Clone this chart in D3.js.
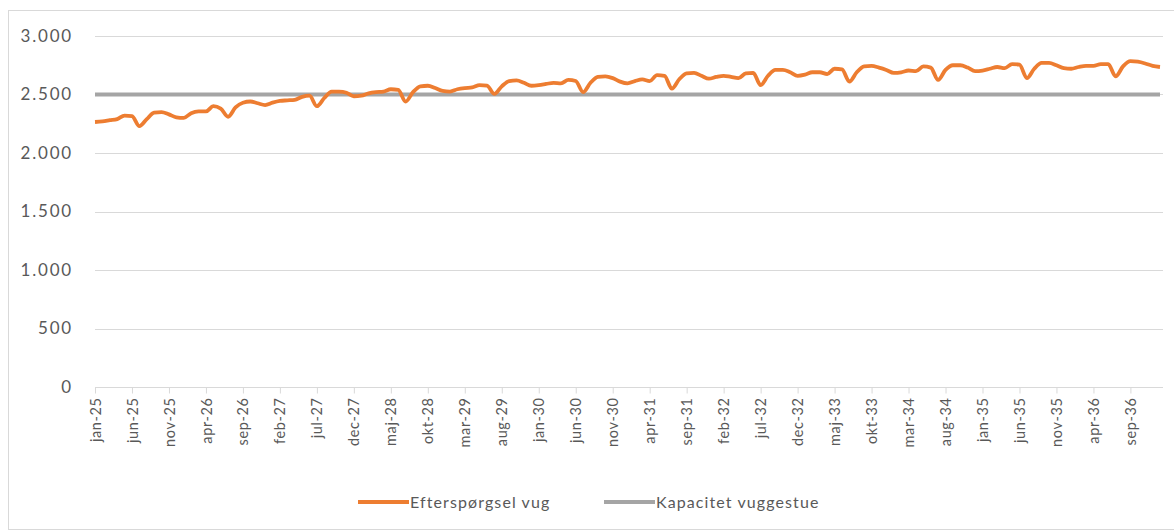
<!DOCTYPE html>
<html>
<head>
<meta charset="utf-8">
<script src="https://cdn.jsdelivr.net/npm/d3@7"></script>
<style>
    body { margin: 0; background: #fff; }
    text { font-family: Lato, "Open Sans", sans-serif; fill: #595959; }
</style>
</head>
<body>
<div id="chart"></div>
<script>
var monthNames = ["jan", "feb", "mar", "apr", "maj", "jun", "jul", "aug", "sep", "okt", "nov", "dec"];
var years = ["25", "26", "27", "28", "29", "30", "31", "32", "33", "34", "35", "36", "37"];

// efterspørgsel, jan-25 .. jan-37
var demand = [
    2265, 2270, 2280, 2290, 2320, 2315, 2230, 2290, 2345, 2350, 2330, 2305,
    2300, 2340, 2355, 2355, 2400, 2380, 2310, 2390, 2430, 2440, 2425, 2410,
    2430, 2445, 2450, 2455, 2480, 2490, 2400, 2470, 2525, 2525, 2515, 2485,
    2490, 2510, 2520, 2525, 2545, 2540, 2440, 2520, 2570, 2575, 2555, 2530,
    2525, 2545, 2555, 2560, 2580, 2575, 2505, 2570, 2615, 2620, 2600, 2575,
    2580, 2590, 2600, 2595, 2625, 2615, 2520, 2600, 2650, 2655, 2640, 2610,
    2595, 2615, 2630, 2615, 2665, 2660, 2550, 2630, 2680, 2685, 2660, 2635,
    2650, 2660, 2650, 2640, 2680, 2685, 2580, 2660, 2710, 2710, 2690, 2660,
    2670, 2690, 2690, 2675, 2720, 2715, 2610, 2690, 2740, 2745, 2730, 2710,
    2685, 2690, 2705, 2700, 2740, 2730, 2625, 2710, 2750, 2750, 2730, 2700,
    2705, 2720, 2735, 2725, 2760, 2755, 2640, 2720, 2770, 2770, 2750, 2725,
    2720, 2735, 2745, 2745, 2760, 2760, 2655, 2740, 2785, 2780, 2765, 2745,
    2735
];

var capacity = [
    2500, 2500, 2500, 2500, 2500, 2500, 2500, 2500, 2500, 2500, 2500, 2500,
    2500, 2500, 2500, 2500, 2500, 2500, 2500, 2500, 2500, 2500, 2500, 2500,
    2500, 2500, 2500, 2500, 2500, 2500, 2500, 2500, 2500, 2500, 2500, 2500,
    2500, 2500, 2500, 2500, 2500, 2500, 2500, 2500, 2500, 2500, 2500, 2500,
    2500, 2500, 2500, 2500, 2500, 2500, 2500, 2500, 2500, 2500, 2500, 2500,
    2500, 2500, 2500, 2500, 2500, 2500, 2500, 2500, 2500, 2500, 2500, 2500,
    2500, 2500, 2500, 2500, 2500, 2500, 2500, 2500, 2500, 2500, 2500, 2500,
    2500, 2500, 2500, 2500, 2500, 2500, 2500, 2500, 2500, 2500, 2500, 2500,
    2500, 2500, 2500, 2500, 2500, 2500, 2500, 2500, 2500, 2500, 2500, 2500,
    2500, 2500, 2500, 2500, 2500, 2500, 2500, 2500, 2500, 2500, 2500, 2500,
    2500, 2500, 2500, 2500, 2500, 2500, 2500, 2500, 2500, 2500, 2500, 2500,
    2500, 2500, 2500, 2500, 2500, 2500, 2500, 2500, 2500, 2500, 2500, 2500,
    2500
];

var yTicks = [0, 500, 1000, 1500, 2000, 2500, 3000];
var seriesNames = ["Efterspørgsel vug", "Kapacitet vuggestue"];
var seriesColors = ["#ed7d31", "#a5a5a5"];

var width = 1174, height = 532;
var plotLeft = 95, plotRight = 1160, plotTop = 36, plotBottom = 387;

var categories = [];
years.forEach(function (yr) {
    monthNames.forEach(function (m) { categories.push(m + "-" + yr); });
});
categories = categories.slice(0, demand.length);

var svg = d3.select("#chart").append("svg")
    .attr("width", width)
    .attr("height", height);

svg.append("rect")
    .attr("x", 8.5).attr("y", 10.5)
    .attr("width", width).attr("height", 519)
    .attr("fill", "none")
    .attr("stroke", "#d9d9d9");

var x = d3.scaleLinear().domain([0, demand.length - 1]).range([plotLeft, plotRight]);
var y = d3.scaleLinear().domain([0, 3000]).range([plotBottom, plotTop]);

// gridlines
svg.append("g")
    .selectAll("line")
    .data(yTicks.filter(function (d) { return d > 0; }))
    .enter().append("line")
    .attr("x1", plotLeft).attr("x2", plotRight + 3)
    .attr("y1", function (d) { return Math.round(y(d)) + 0.5; })
    .attr("y2", function (d) { return Math.round(y(d)) + 0.5; })
    .attr("stroke", "#d9d9d9");

// y labels
svg.append("g")
    .selectAll("text")
    .data(yTicks)
    .enter().append("text")
    .attr("x", 73)
    .attr("y", function (d) { return y(d); })
    .attr("dy", "0.35em")
    .attr("text-anchor", "end")
    .style("font-size", "17px")
    .style("letter-spacing", "1.8px")
    .text(function (d) { return d3.format(",")(d).replace(/,/g, "."); });

// x axis
var tickIdx = d3.range(0, demand.length, 5).filter(function (i) { return i <= 140; });
var xAxis = d3.axisBottom(x)
    .tickValues(tickIdx)
    .tickSize(6)
    .tickFormat(function (i) { return categories[i]; });

var gx = svg.append("g")
    .attr("transform", "translate(0," + (Math.round(plotBottom) + 0.5) + ")")
    .call(xAxis);
gx.select(".domain").attr("stroke", "#d9d9d9").attr("d", "M" + plotLeft + ",0H" + (plotRight + 3));
gx.selectAll(".tick line").attr("stroke", "#d9d9d9");
gx.selectAll(".tick text")
    .attr("transform", "rotate(-90)")
    .attr("x", -10)
    .attr("y", 0)
    .attr("dy", "0.35em")
    .attr("text-anchor", "end")
    .style("font-size", "14.5px")
    .style("letter-spacing", "0.6px")
    .style("font-family", "Lato, sans-serif")
    .attr("fill", "#595959");

var line = d3.line()
    .x(function (d, i) { return x(i); })
    .y(function (d) { return y(d); });

svg.append("path")
    .datum(capacity)
    .attr("d", line)
    .attr("fill", "none")
    .attr("stroke", seriesColors[1])
    .attr("stroke-width", 4);

svg.append("path")
    .datum(demand)
    .attr("d", line.curve(d3.curveMonotoneX))
    .attr("fill", "none")
    .attr("stroke", seriesColors[0])
    .attr("stroke-width", 3.8)
    .attr("stroke-linejoin", "round");

// legend
var legendX = [358, 604];
var legend = svg.append("g");
seriesNames.forEach(function (name, i) {
    legend.append("line")
        .attr("x1", legendX[i]).attr("x2", legendX[i] + 51)
        .attr("y1", 502).attr("y2", 502)
        .attr("stroke", seriesColors[i])
        .attr("stroke-width", i === 0 ? 3.8 : 4);
    legend.append("text")
        .attr("x", legendX[i] + 52)
        .attr("y", 502)
        .attr("dy", "0.35em")
        .style("font-size", "16px")
        .style("letter-spacing", "1.1px")
        .text(name);
});
</script>
</body>
</html>
